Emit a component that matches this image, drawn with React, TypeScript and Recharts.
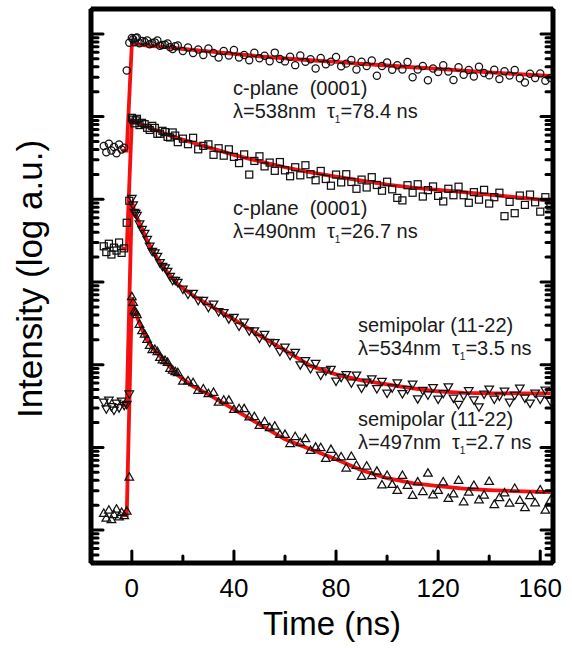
import { ComposedChart, Scatter, Line, XAxis, YAxis } from 'recharts';

// time grids (ns)
const preTimes = [-11, -10, -9, -8, -7, -6, -5, -4, -3];
const riseTimes = [-2, -1];
const earlyTimes = [0.5, 1, 1.5, 3, 5, 7, 9, 11, 13, 15, 17];
const decayTimes = [
  0, 2, 4, 6, 8, 10, 12, 14, 16, 18, 20, 22, 24, 26, 28, 30, 32, 34, 36, 38, 40,
  42, 44, 46, 48, 50, 52, 54, 56, 58, 60, 62, 64, 66, 68, 70, 72, 74, 76, 78, 80,
  82, 84, 86, 88, 90, 92, 94, 96, 98, 100, 102, 104, 106, 108, 110, 112, 114, 116,
  118, 120, 122, 124, 126, 128, 130, 132, 134, 136, 138, 140, 142, 144, 146, 148,
  150, 152, 154, 156, 158, 160, 162, 164,
];
const fitTimes = [
  -4, -2, 0, 1, 2, 4, 6, 8, 10, 14, 18, 24, 30, 40, 50, 60, 70, 80, 90, 100, 110,
  120, 130, 140, 150, 164,
];

// c-plane 538 nm (circles)
const c538Pre = [4.4e4, 3.7e4, 4.7e4, 3.9e4, 4.3e4, 3.6e4, 4.6e4, 4.0e4, 4.2e4];
const c538Rise = [3.6e5, 7.8e5];
const c538Early = [8.6e5, 7.9e5, 8.9e5, 7.7e5, 8.0e5, 7.5e5, 7.9e5, 7.2e5, 7.4e5, 6.9e5, 7.1e5];
const c538Decay = [
  8.92e5, 9.05e5, 8.22e5, 8.32e5, 7.76e5, 8.33e5, 7.35e5, 7.66e5, 6.57e5, 7.24e5,
  6.22e5, 6.85e5, 5.88e5, 6.48e5, 5.56e5, 6.66e5, 5.88e5, 5.19e5, 6.22e5, 5.49e5,
  6.39e5, 5.19e5, 5.57e5, 4.79e5, 5.9e5, 5.07e5, 5.45e5, 4.68e5, 5.94e5, 4.97e5,
  4.65e5, 5.29e5, 4.19e5, 5.48e5, 4.59e5, 4.93e5, 3.81e5, 5.12e5, 4.3e5, 4.62e5,
  5.26e5, 4.05e5, 4.37e5, 4.83e5, 3.72e5, 4.6e5, 4.08e5, 4.77e5, 3.11e5, 4.08e5,
  4.51e5, 3.68e5, 4.18e5, 3.71e5, 4.58e5, 2.99e5, 3.7e5, 4.1e5, 2.75e5, 3.81e5,
  3.47e5, 4.17e5, 3.5e5, 2.77e5, 3.95e5, 3.21e5, 3.66e5, 3.06e5, 4.01e5, 3.36e5,
  3.15e5, 3.68e5, 2.84e5, 3.53e5, 3.13e5, 3.67e5, 2.91e5, 2.58e5, 3.29e5, 2.92e5,
  3.33e5, 2.71e5, 2.93e5,
];
const c538Fit = [
  3.87e4, 3.87e4, 7.55e5, 7.51e5, 7.45e5, 7.35e5, 7.24e5, 7.14e5, 7.05e5, 6.85e5,
  6.66e5, 6.39e5, 6.13e5, 5.72e5, 5.36e5, 5.05e5, 4.8e5, 4.58e5, 4.35e5, 4.15e5,
  3.95e5, 3.77e5, 3.59e5, 3.42e5, 3.28e5, 3.1e5,
];

// c-plane 490 nm (squares)
const c490Pre = [2700, 2300, 2900, 2150, 2600, 2400, 3000, 2250, 2550];
const c490Rise = [5200, 9600];
const c490Early = [9.2e4, 8.3e4, 9.0e4, 7.9e4, 8.1e4, 6.9e4, 7.3e4, 6.2e4, 6.5e4, 5.6e4, 5.9e4];
const c490Decay = [
  9.66e4, 9.4e4, 8.4e4, 7.32e4, 7.73e4, 6.19e4, 6.73e4, 5.69e4, 6.43e4, 4.91e4,
  5.41e4, 4.64e4, 5.54e4, 4.02e4, 4.43e4, 4.62e4, 3.45e4, 4.14e4, 3.37e4, 4.02e4,
  3.26e4, 2.74e4, 3.49e4, 1.99e4, 2.91e4, 3.31e4, 2.5e4, 2.78e4, 2.21e4, 2.82e4,
  2.24e4, 1.9e4, 2.44e4, 1.95e4, 2.58e4, 2.01e4, 1.7e4, 2.2e4, 1.76e4, 1.46e4,
  1.99e4, 1.6e4, 2.01e4, 1.62e4, 1.34e4, 1.73e4, 1.39e4, 1.85e4, 1.49e4, 1.27e4,
  1.63e4, 1.32e4, 1.04e4, 9700, 1.48e4, 1.2e4, 1.52e4, 1.08e4, 1.29e4, 1.43e4,
  1.1e4, 9420, 1.34e4, 1.12e4, 1.42e4, 1.12e4, 9080, 1.22e4, 9900, 1.3e4,
  8880, 1.06e4, 1.2e4, 6250, 9310, 6790, 1.11e4, 8560, 1.14e4, 9200,
  7090, 1.06e4, 8370,
];
const c490Fit = [
  2530, 2530, 8.89e4, 8.64e4, 8.41e4, 7.95e4, 7.52e4, 7.11e4, 6.73e4, 6.02e4,
  5.49e4, 4.82e4, 4.25e4, 3.45e4, 2.88e4, 2.44e4, 2.12e4, 1.88e4, 1.68e4, 1.5e4,
  1.38e4, 1.3e4, 1.22e4, 1.14e4, 1.06e4, 9620,
];

// semipolar 534 nm (down triangles)
const s534Pre = [35, 29, 37, 31, 28, 34, 30, 36, 32];
const s534Rise = [33, 44];
const s534Early = [8500, 6900, 6700, 5000, 3850, 2700, 2230, 1700, 1470, 1160, 1040];
const s534Decay = [
  10200, 6340, 4300, 3250, 2330, 2030, 1540, 1340, 1040, 985, 817, 708, 725, 596,
  596, 491, 538, 435, 425, 357, 372, 291, 326, 255, 255, 208, 231, 185, 184, 144,
  162, 129, 140, 99.2, 111, 89, 103, 74.4, 84, 87, 62.9, 69.8, 75.4, 59.9, 74.6,
  51.7, 61.4, 67.1, 51.1, 62.5, 45, 52, 60.1, 44.5, 50, 57.8, 38.5, 48.7, 42.8,
  52.6, 38.1, 44.7, 53.8, 39.3, 32.9, 42, 48.2, 37.4, 30.7, 43.9, 50.3, 38.1,
  41.4, 47.6, 35.1, 42.6, 51.7, 39.2, 34.1, 45, 38.1, 48.9, 36,
];
const s534Fit = [
  32.3, 32.3, 9620, 7080, 6000, 4420, 3160, 2460, 1920, 1300, 932, 686, 534, 352,
  226, 149, 96.7, 76.4, 64.6, 57.8, 51.7, 47.6, 45.7, 45, 45, 45,
];

// semipolar 497 nm (up triangles)
const s497Pre = [1.6, 1.4, 1.75, 1.35, 1.55, 1.8, 1.45, 1.65, 1.5];
const s497Rise = [1.7, 4.4];
const s497Early = [570, 450, 435, 310, 236, 172, 154, 123, 113, 91, 83];
const s497Decay = [
  667, 405, 260, 203, 153, 145, 115, 107, 86.6, 80.8, 63.5, 64.1, 61.2, 49.3,
  51.2, 45, 46.5, 35.4, 37.5, 37.4, 28.9, 29.6, 29.5, 23.6, 23.7, 18.5, 20.6,
  17.4, 18.2, 14.4, 14.4, 11.2, 13.6, 11.5, 12.8, 9.24, 10.1, 10, 7.41, 9.49, 7.6,
  7.74, 5.66, 7.83, 6.09, 4.48, 5.98, 4.58, 5.18, 3.54, 4.61, 3.58, 3.04, 4.61,
  3.49, 2.64, 3.84, 2.94, 4.9, 2.69, 3.04, 3.85, 2.43, 2.76, 4.01, 2.21, 2.89,
  3.49, 2.34, 2.67, 3.9, 2.05, 2.48, 2.83, 2.13, 3.22, 2.3, 1.88, 2.62, 2.15,
  3.08, 1.75, 2.3,
];
const s497Fit = [
  1.52, 1.52, 649, 465, 383, 267, 197, 162, 137, 101, 74.3, 54.7, 43.8, 28.9, 19,
  12.5, 9.5, 7.19, 5.3, 4.24, 3.69, 3.4, 3.17, 3.04, 2.96, 2.88,
];

// axes
const xTicks = [0, 20, 40, 60, 80, 100, 120, 140, 160];
const xLabels = [0, 40, 80, 120, 160];
const yDecades = [1, 10, 100, 1e3, 1e4, 1e5, 1e6];
const yMinorSteps = [2, 3, 4, 5, 6, 7, 8, 9];
const yTicks = [0.4, 0.5, 0.6, 0.7, 0.8, 0.9]
  .concat(yDecades.flatMap((d) => [d, ...yMinorSteps.map((m) => m * d)]))
  .filter((v) => v <= 2e6);

const pts = (times: number[], values: number[]) =>
  times.map((t, i) => ({ t, v: values[i] }));
const measured = (pre: number[], rise: number[], early: number[], decay: number[]) => [
  ...pts(preTimes, pre),
  ...pts(riseTimes, rise),
  ...pts(earlyTimes, early),
  ...pts(decayTimes, decay),
];

const FONT = '"Liberation Sans", Arial, sans-serif';
const RED = '#f50f0f';
const INK = '#111';
const SW = 1.25;

const CircleMark = (p: any) => (
  <circle cx={p.cx} cy={p.cy} r={3.6} fill="none" stroke={INK} strokeWidth={SW} />
);
const SquareMark = (p: any) => (
  <rect x={p.cx - 3.5} y={p.cy - 3.5} width={7} height={7} fill="none" stroke={INK} strokeWidth={SW} />
);
const DownMark = (p: any) => (
  <path d={`M${p.cx - 4.3},${p.cy - 3.2}L${p.cx + 4.3},${p.cy - 3.2}L${p.cx},${p.cy + 4.2}Z`} fill="none" stroke={INK} strokeWidth={SW} />
);
const UpMark = (p: any) => (
  <path d={`M${p.cx - 4.3},${p.cy + 3.2}L${p.cx + 4.3},${p.cy + 3.2}L${p.cx},${p.cy - 4.2}Z`} fill="none" stroke={INK} strokeWidth={SW} />
);

const tickLine = { stroke: '#000', strokeWidth: 3, strokeLinecap: 'round' as const };

function BottomTick({ x, y, payload }: any) {
  const major = xLabels.includes(payload.value);
  return (
    <g>
      <line x1={x} x2={x} y1={y} y2={y - (major ? 12 : 7)} {...tickLine} />
      {major && (
        <text x={x} y={y + 34} textAnchor="middle" fontSize={26} fontFamily={FONT} fill="#000">
          {payload.value}
        </text>
      )}
    </g>
  );
}

function TopTick({ x, y, payload }: any) {
  const major = xLabels.includes(payload.value);
  return <line x1={x} x2={x} y1={y} y2={y + (major ? 12 : 7)} {...tickLine} />;
}

function LeftTick({ x, y, payload }: any) {
  const major = yDecades.includes(payload.value);
  return <line x1={x} x2={x + (major ? 12 : 7)} y1={y} y2={y} {...tickLine} />;
}

function RightTick({ x, y, payload }: any) {
  const major = yDecades.includes(payload.value);
  return <line x1={x} x2={x - (major ? 12 : 7)} y1={y} y2={y} {...tickLine} />;
}

function Note({ x, y, title, lambda, tau }: { x: number; y: number; title: string; lambda: string; tau: string }) {
  return (
    <g fontFamily={FONT} fontSize={20} fill="#1a1a1a">
      <text x={x} y={y} xmlSpace="preserve">{title}</text>
      <text x={x} y={y + 23} xmlSpace="preserve">
        {`λ=${lambda}nm  τ`}
        <tspan fontSize={10} dy={5}>1</tspan>
        <tspan dy={-5}>{`=${tau} ns`}</tspan>
      </text>
    </g>
  );
}

export default function App() {
  const axisLine = { stroke: '#000', strokeWidth: 5 };
  return (
    <div style={{ position: 'absolute', left: 0, top: 0, width: 572, height: 648, background: '#fff' }}>
      <ComposedChart width={572} height={648} margin={{ top: 0, right: 0, bottom: 0, left: 0 }}>
        <XAxis
          dataKey="t"
          type="number"
          domain={[-16, 165]}
          allowDataOverflow
          ticks={xTicks}
          interval={0}
          height={85}
          tickSize={0}
          tickMargin={0}
          tickLine={false}
          axisLine={axisLine}
          tick={<BottomTick />}
        />
        <XAxis
          xAxisId="top"
          orientation="top"
          type="number"
          domain={[-16, 165]}
          allowDataOverflow
          ticks={xTicks}
          interval={0}
          height={9}
          tickSize={0}
          tickMargin={0}
          tickLine={false}
          axisLine={axisLine}
          tick={<TopTick />}
        />
        <YAxis
          scale="log"
          type="number"
          domain={[0.4, 2e6]}
          allowDataOverflow
          ticks={yTicks}
          interval={0}
          width={91}
          tickSize={0}
          tickMargin={0}
          tickLine={false}
          axisLine={axisLine}
          tick={<LeftTick />}
        />
        <YAxis
          yAxisId="right"
          orientation="right"
          scale="log"
          type="number"
          domain={[0.4, 2e6]}
          allowDataOverflow
          ticks={yTicks}
          interval={0}
          width={19}
          tickSize={0}
          tickMargin={0}
          tickLine={false}
          axisLine={axisLine}
          tick={<RightTick />}
        />

        <Scatter data={measured(c538Pre, c538Rise, c538Early, c538Decay)} dataKey="v" shape={CircleMark} isAnimationActive={false} />
        <Scatter data={measured(c490Pre, c490Rise, c490Early, c490Decay)} dataKey="v" shape={SquareMark} isAnimationActive={false} />
        <Scatter data={measured(s534Pre, s534Rise, s534Early, s534Decay)} dataKey="v" shape={DownMark} isAnimationActive={false} />
        <Scatter data={measured(s497Pre, s497Rise, s497Early, s497Decay)} dataKey="v" shape={UpMark} isAnimationActive={false} />

        <Line data={pts(fitTimes, c538Fit)} dataKey="v" type="linear" stroke={RED} strokeWidth={3.8} dot={false} isAnimationActive={false} />
        <Line data={pts(fitTimes, c490Fit)} dataKey="v" type="linear" stroke={RED} strokeWidth={3.8} dot={false} isAnimationActive={false} />
        <Line data={pts(fitTimes, s534Fit)} dataKey="v" type="linear" stroke={RED} strokeWidth={3.8} dot={false} isAnimationActive={false} />
        <Line data={pts(fitTimes, s497Fit)} dataKey="v" type="linear" stroke={RED} strokeWidth={3.8} dot={false} isAnimationActive={false} />

        <Note x={233} y={95} title="c-plane  (0001)" lambda="538" tau="78.4" />
        <Note x={233} y={215} title="c-plane  (0001)" lambda="490" tau="26.7" />
        <Note x={358} y={332} title="semipolar (11-22)" lambda="534" tau="3.5" />
        <Note x={358} y={426} title="semipolar (11-22)" lambda="497" tau="2.7" />

        <text x={332} y={635} textAnchor="middle" fontSize={33} fontFamily={FONT} fill="#000">
          Time (ns)
        </text>
        <text transform="translate(42,279) rotate(-90)" textAnchor="middle" fontSize={35} fontFamily={FONT} fill="#000">
          Intensity (log a.u.)
        </text>
      </ComposedChart>
    </div>
  );
}
